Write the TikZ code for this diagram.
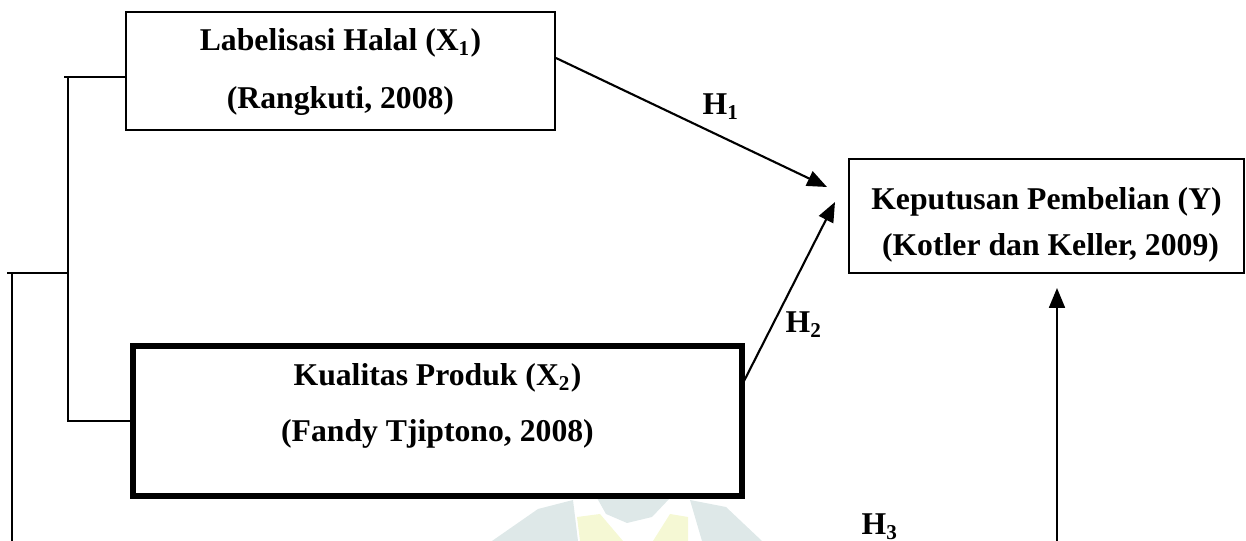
\documentclass[tikz,border=0pt]{standalone}
\usepackage{fontspec}
\setmainfont{Liberation Serif}
\usepackage{tikz}
\usetikzlibrary{arrows.meta,positioning}
\definecolor{markteal}{RGB}{222,232,232}
\definecolor{markyellow}{RGB}{245,248,212}
\newcommand{\unitpx}{0.0133cm}

\begin{document}
\begin{tikzpicture}[x=0.0133cm,y=-0.0133cm,
				varbox/.style={draw,line width=0.75pt,inner sep=0pt},
				vartext/.style={align=center,inner sep=0pt,font=\fontsize{12}{22}\selectfont\bfseries},
				link/.style={line width=0.75pt},
				hyp/.style={-{Triangle[length=7.5pt,width=6pt]},line width=0.8pt},
				hlabel/.style={inner sep=0pt,font=\fontsize{12}{14}\selectfont\bfseries}]
				\useasboundingbox (0,0) rectangle (1246,541);
				
				% Faint logo in the page background.
				\fill[markteal] (492,541)--(538,509)--(573,500)--(578,541)--cycle;
				\fill[markteal] (597,498)--(670,498)--(652,517)--(627,523)--(606,514)--cycle;
				\fill[markteal] (690,500)--(726,507)--(762,541)--(702,541)--cycle;
				\fill[markyellow] (577,517)--(600,514)--(623,541)--(580,541)--cycle;
				\fill[markyellow] (653,541)--(670,514)--(688,517)--(688,541)--cycle;
				
				% Variables.
				\node[varbox,minimum width=429*\unitpx,minimum height=118*\unitpx] (x1) at (340.5,71) {};
				\node[vartext] (x1txt) at (340.5,72) {Labelisasi Halal (X\textsubscript{1})\\(Rangkuti, 2008)};
				\node[varbox,line width=2.1pt,minimum width=609.5*\unitpx,minimum height=150.5*\unitpx] (x2) at (437.5,421) {};
				\node[vartext,font=\fontsize{12}{21}\selectfont\bfseries] (x2txt) at (437.5,406) {Kualitas Produk (X\textsubscript{2})\\(Fandy Tjiptono, 2008)};
				\node[varbox,minimum width=395*\unitpx,minimum height=114*\unitpx] (ky) at (1046.5,216) {};
				\node[vartext,font=\fontsize{12}{17.5}\selectfont\bfseries] (kytxt) at (1046.5,225) {Keputusan Pembelian (Y)\\\ (Kotler dan Keller, 2009)};
				
				% Bracket joining X1 and X2 on the left.
				\coordinate (tick) at (64,77);
				\coordinate (brtop) at (68,77);
				\draw[link] (tick) -- (tick -| x1.west);
				\draw[link] (brtop) |- (x2.west);
				\coordinate (outtick) at (7,273);
				\coordinate (outjoin) at (69,273);
				\coordinate (outbot) at (12,541);
				\draw[link] (outtick) -- (outjoin);
				\draw[link] (outbot) -- (outbot |- outjoin);
				
				% Hypotheses H1, H2, H3.
				\coordinate (h1to) at (827,187);
				\coordinate (h2to) at (835,202);
				\coordinate (h3from) at (1057,541);
				\coordinate (h3to) at (1057,288);
				\draw[hyp] ([yshift=13*\unitpx]x1.east) -- (h1to);
				\draw[hyp] ([yshift=38*\unitpx,xshift=-2*\unitpx]x2.east) -- (h2to);
				\draw[hyp] (h3from) -- (h3to);
				\node[hlabel] (h1) at (721,107) {H\textsubscript{1}};
				\node[hlabel] (h2) at (804,325) {H\textsubscript{2}};
				\node[hlabel] (h3) at (880,527) {H\textsubscript{3}};
			\end{tikzpicture}
\end{document}
